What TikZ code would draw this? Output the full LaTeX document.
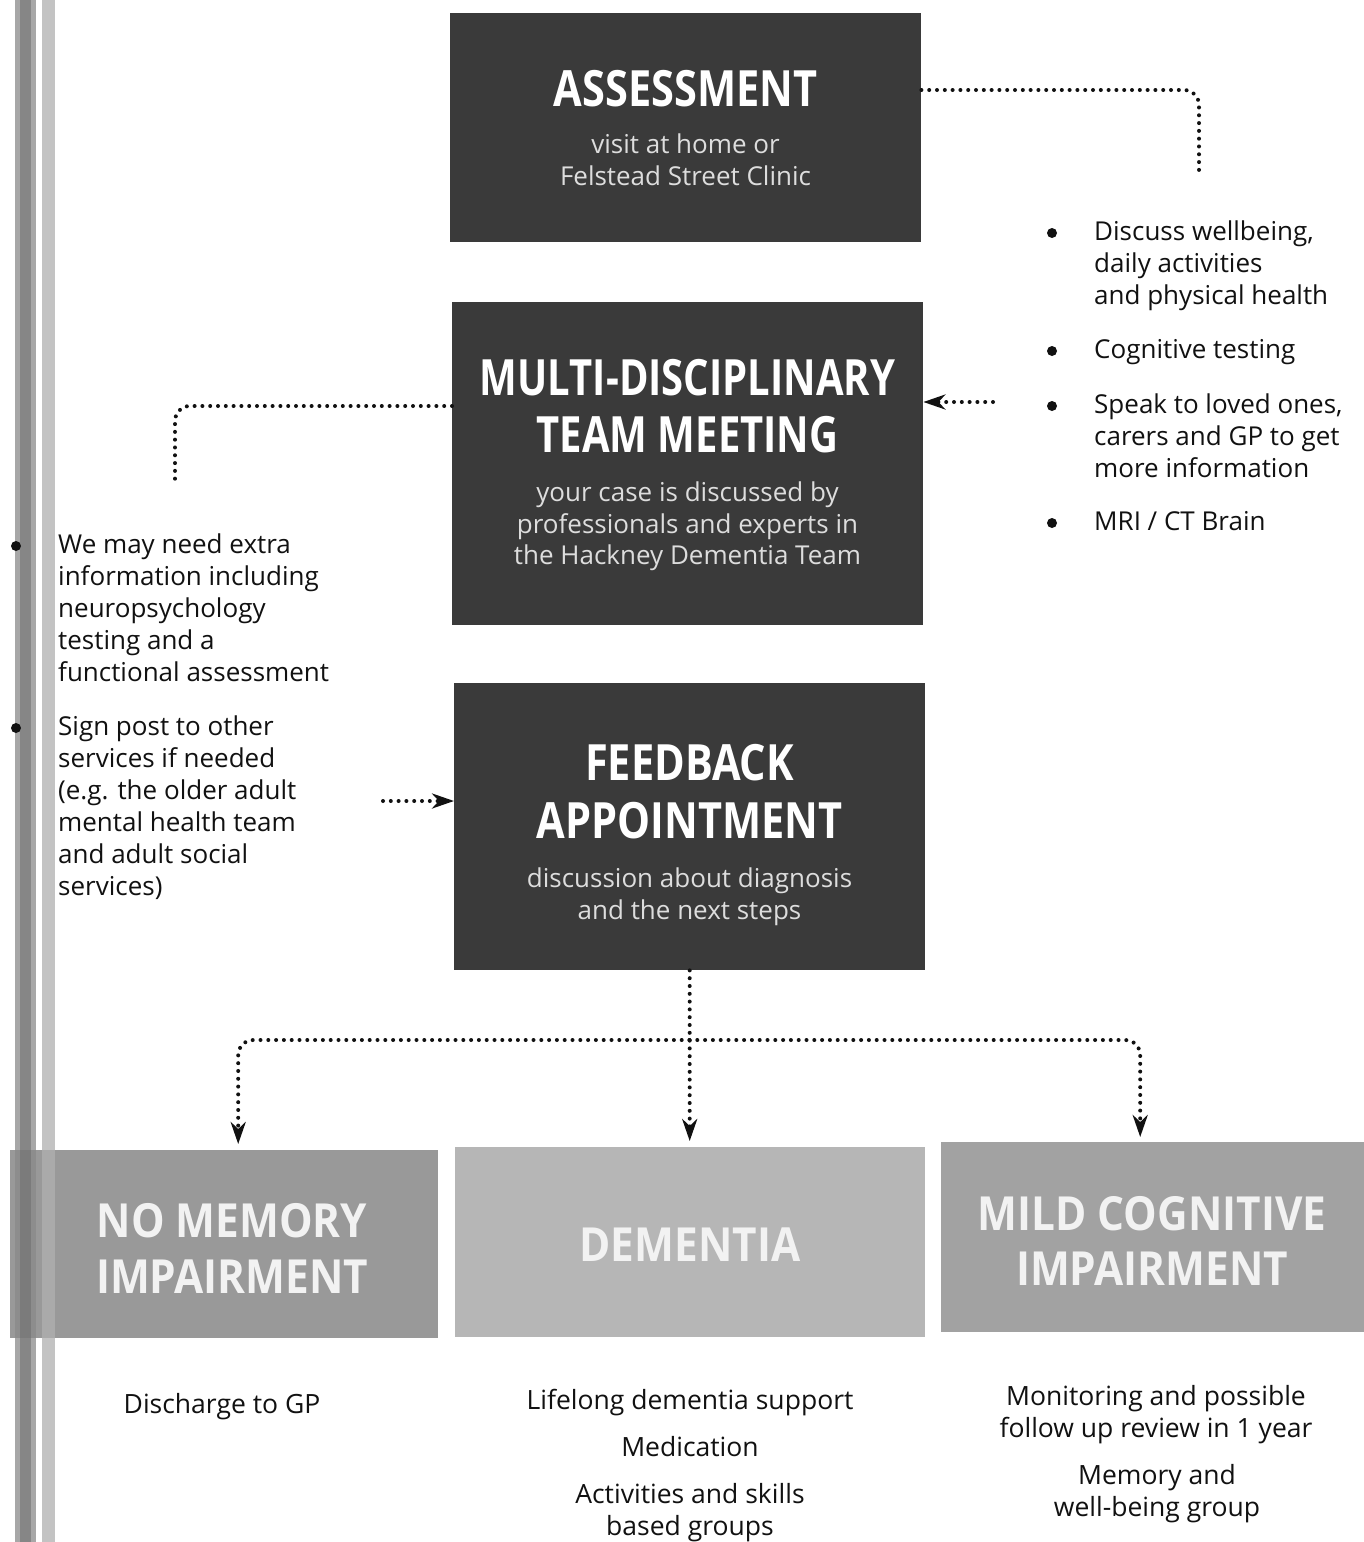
\documentclass[tikz,border=0pt]{standalone}
\usepackage{fontspec}
\setmainfont{Open Sans}
\newfontfamily\titlefont{Open Sans}[FakeStretch=0.83]
\newfontfamily\lowfont{Open Sans}[FakeStretch=0.9]
\newfontfamily\mdtfont{Open Sans}[FakeStretch=0.8]
\usetikzlibrary{arrows.meta}
\definecolor{boxdark}{HTML}{3A3A3A}
\definecolor{subgray}{HTML}{DDDDDD}
\definecolor{nomemgray}{HTML}{999999}
\definecolor{demgray}{HTML}{B6B6B6}
\definecolor{mildgray}{HTML}{A2A2A2}
\definecolor{stripedark}{HTML}{8A8A8A}
\definecolor{stripecore}{HTML}{707070}
\definecolor{stripelight}{HTML}{B0B0B0}
\definecolor{inktext}{HTML}{111111}
\begin{document}
\begin{tikzpicture}[x=1pt,y=-1pt,
  darkbox/.style={fill=boxdark, draw=none, inner sep=0pt, anchor=north west},
  lightbox/.style={draw=none, inner sep=0pt, anchor=north west},
  boxtitle/.style={anchor=north, inner sep=0pt, align=center, text=white,
    font=\titlefont\bfseries\fontsize{50}{57}\selectfont},
  lowtitle/.style={anchor=north, inner sep=0pt, align=center, text=white!95!black,
    font=\lowfont\bfseries\fontsize{47}{56}\selectfont},
  boxsub/.style={anchor=north, inner sep=0pt, align=center, text=subgray,
    font=\fontsize{26}{32}\selectfont},
  body/.style={inner sep=0pt, text=inktext, font=\fontsize{26}{32}\selectfont},
  listitem/.style={body, anchor=north west, align=left},
  outcome/.style={body, anchor=north, align=center, font=\fontsize{26.5}{32}\selectfont},
  bulletdot/.style={circle, fill=inktext, inner sep=0pt, minimum size=10pt},
  conn/.style={line width=4pt, dash pattern=on 0pt off 7.8pt, line cap=round,
    rounded corners=15pt, inktext},
  tip/.style={-{Stealth[length=22pt,width=15pt,inset=7pt]}}
]
\useasboundingbox (0,0) rectangle (1364,1542);
\fill[white] (0,0) rectangle (1364,1542);

% main boxes
\node[darkbox, minimum width=471pt, minimum height=229pt] (assess) at (450,13) {};
\node[darkbox, minimum width=471pt, minimum height=323pt] (mdt) at (452,302) {};
\node[darkbox, minimum width=471pt, minimum height=287pt] (fb) at (454,683) {};

\node[lightbox, fill=nomemgray, minimum width=428pt, minimum height=188pt] (nomem) at (10,1150) {};
\node[lightbox, fill=demgray, minimum width=470pt, minimum height=190pt] (dem) at (455,1147) {};
\node[lightbox, fill=mildgray, minimum width=423pt, minimum height=190pt] (mild) at (941,1142) {};

% left binding stripes
\fill[stripedark, opacity=0.75] (15,0) rectangle (36,1542);
\fill[stripecore, opacity=0.6] (20,0) rectangle (31,1542);
\fill[stripelight, opacity=0.75] (42,0) rectangle (55,1542);

% texts in main boxes
\node[boxtitle] (assessT) at (685.5,70) {ASSESSMENT};
\node[boxsub] (assessS) at (685.5,134) {visit at home or\\Felstead Street Clinic};

\node[boxtitle, font=\mdtfont\bfseries\fontsize{50}{57}\selectfont] (mdtT) at (687.5,359) {MULTI-DISCIPLINARY\\TEAM MEETING};
\node[boxsub, font=\fontsize{26}{31.5}\selectfont] (mdtS) at (687.5,482) {your case is discussed by\\professionals and experts in\\the Hackney Dementia Team};

\node[boxtitle, font=\titlefont\bfseries\fontsize{50}{58}\selectfont] (fbT) at (689.5,744) {FEEDBACK\\APPOINTMENT};
\node[boxsub] (fbS) at (689.5,868) {discussion about diagnosis\\and the next steps};

% lower box titles
\node[lowtitle] (nomemT) at (232,1203) {NO MEMORY\\IMPAIRMENT};
\node[lowtitle] (demT) at (690,1228) {DEMENTIA};
\node[lowtitle, font=\lowfont\bfseries\fontsize{47}{55}\selectfont] (mildT) at (1152,1196) {MILD COGNITIVE\\IMPAIRMENT};

% right list
\node[bulletdot] (rb1) at (1052,233) {};
\node[bulletdot] (rb2) at (1052,351) {};
\node[bulletdot] (rb3) at (1052,406) {};
\node[bulletdot] (rb4) at (1052,523) {};
\node[listitem] (r1) at (1094,221) {Discuss wellbeing,\\daily activities\\and physical health};
\node[listitem] (r2) at (1094,339) {Cognitive testing};
\node[listitem] (r3) at (1094,394) {Speak to loved ones,\\carers and GP to get\\more information};
\node[listitem] (r4) at (1094,511) {MRI / CT Brain};

% left list
\node[bulletdot] (lb1) at (16,546) {};
\node[bulletdot] (lb2) at (16,728) {};
\node[listitem] (l1) at (58,534) {We may need extra\\information including\\neuropsychology\\testing and a\\functional assessment};
\node[listitem] (l2) at (58,716) {Sign post to other\\services if needed\\(e.g. the older adult\\mental health team\\and adult social\\services)};

% outcomes
\node[outcome] (o1) at (222,1393) {Discharge to GP};
\node[outcome] (o2) at (690,1389) {Lifelong dementia support};
\node[outcome] (o3) at (690,1436) {Medication};
\node[outcome] (o4) at (690,1483) {Activities and skills\\based groups};
\node[outcome] (o5) at (1156,1385) {Monitoring and possible\\follow up review in 1 year};
\node[outcome] (o6) at (1157,1464) {Memory and\\well-being group};

% connectors
\coordinate (a1) at (1199,90);
\coordinate (c1) at (1199,172);
\draw[conn] (assess.east |- a1) -| (c1);

\coordinate (b2) at (993,402);
\draw[conn, tip] (b2) -- (mdt.east |- b2);

\coordinate (a3) at (175,406);
\coordinate (c3) at (175,485);
\draw[conn] (mdt.west |- a3) -| (c3);

\coordinate (b4) at (383,801);
\draw[conn, tip] (b4) -- (fb.west |- b4);

\coordinate (j) at (689.5,1040);
\draw[conn, tip, shorten >=6pt] (fb.south) -- (fb.south |- dem.north);
\draw[conn, tip, shorten >=6pt] (j) -| ([xshift=14pt]nomem.north);
\draw[conn, tip, shorten >=5pt] (j) -| ([xshift=-12.5pt]mild.north);
\end{tikzpicture}
\end{document}
